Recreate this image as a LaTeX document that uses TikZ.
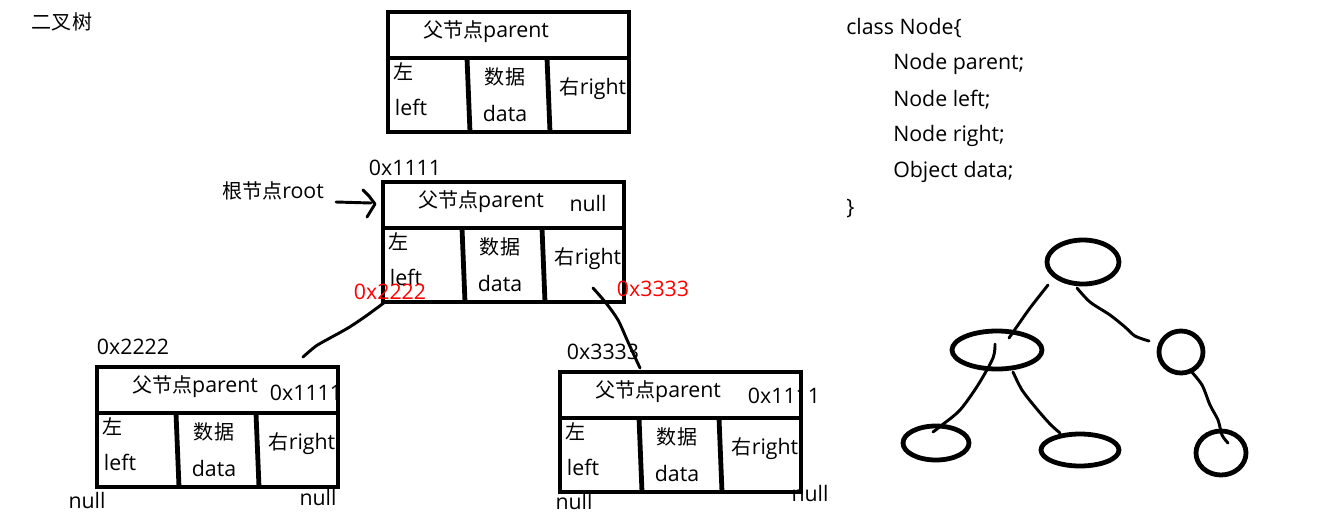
\documentclass[tikz,border=0pt]{standalone}
\usepackage{fontspec}
\setmainfont{Open Sans}
\newfontfamily\cjk[Scale=0.94]{Noto Sans CJK SC}
\newcommand\membox[3]{%
  \begin{scope}[shift={(#2,#3)}]
    \coordinate (#1) at (0,0);
    \draw[boxline] (0,0) rectangle (241,120);
    \draw[boxline] (0,46) -- (241,46);
    \draw[boxline] (79,46) -- (82,120);
    \draw[boxline] (159,46) -- (162,120);
    \node[txt] (#1-p) at (98,20) {{\cjk 父节点}parent};
    \node[txt] (#1-z) at (16,60) {\cjk 左};
    \node[txt] (#1-l) at (23,95) {left};
    \node[txt] (#1-s) at (117,65) {\cjk 数据};
    \node[txt] (#1-d) at (117,101) {data};
    \node[txt] (#1-r) at (205,77) {{\cjk 右}right};
  \end{scope}}
\begin{document}
\begin{tikzpicture}[x=0.75pt,y=-0.75pt,
  boxline/.style={line width=3.6pt},
  txt/.style={font=\fontsize{16}{19}\selectfont, inner sep=0pt},
  redtxt/.style={txt, text=red},
  hand/.style={line width=2.2pt, line cap=round, line join=round},
  ell/.style={line width=3.6pt}]
\useasboundingbox (0,0) rectangle (1321,515);
\fill[white] (0,0) rectangle (1321,515);

\node[txt] (title) at (62,22) {\cjk 二叉树};

% boxes
\membox{top}{388}{12}
\membox{root}{383}{182}
\membox{lc}{97}{367}
\membox{rc}{560}{372}

% extra texts
\node[txt] (rootnull) at (588,203) {null};
\node[txt] (lcpar) at (306,393) {0x1111};
\node[txt] (rcpar) at (784,396) {0x1111};
\node[txt] (addr1) at (405,168) {0x1111};
\node[txt] (addr2) at (133,347) {0x2222};
\node[txt] (addr3) at (603,352) {0x3333};
\node[txt] (rootlbl) at (273,191) {{\cjk 根节点}root};
\node[txt] (n1) at (87,500) {null};
\node[txt] (n2) at (318,497) {null};
\node[txt] (n3) at (574,501) {null};
\node[txt] (n4) at (810,493) {null};

% connectors
\coordinate (a1) at (336,202);
\coordinate (a2) at (371,203);
\draw[hand] (a1) -- (a2);
\draw[hand] (363,190) -- (369,196) -- (375,204) -- (367,217);

\coordinate (c1s) at (303,357);
\coordinate (c1e) at (385,302);
\draw[hand] plot[smooth] coordinates {(c1s) (316,346) (330,338) (348,328) (366,316) (c1e)};
\coordinate (c2s) at (593,288);
\coordinate (c2e) at (640,368);
\draw[hand] plot[smooth] coordinates {(c2s) (606,303) (618,320) (628,342) (c2e)};

\node[redtxt] (r1) at (390,292) {0x2222};
\node[redtxt] (r2) at (653,289) {0x3333};

% class text
\node[txt, anchor=west] (cl0) at (846,28) {class Node\{};
\node[txt, anchor=west] (cl1) at (893,64) {Node parent;};
\node[txt, anchor=west] (cl2) at (893,100) {Node left;};
\node[txt, anchor=west] (cl3) at (893,136) {Node right;};
\node[txt, anchor=west] (cl4) at (893,172) {Object data;};
\node[txt, anchor=west] (cl5) at (846,209) {\}};

% tree sketch
\draw[ell] (1083,262) ellipse [x radius=36, y radius=22];
\draw[ell] (997,350) ellipse [x radius=45, y radius=19];
\draw[ell] (1181,352) ellipse [x radius=22, y radius=21];
\draw[ell] (936,443) ellipse [x radius=33, y radius=17];
\draw[ell] (1080,450) ellipse [x radius=39, y radius=16];
\draw[ell] (1221,453) ellipse [x radius=25, y radius=22];
\draw[hand] plot[smooth] coordinates {(1048,285) (1030,308) (1018,325) (1009,338)};
\draw[hand] plot[smooth] coordinates {(1077,288) (1090,302) (1110,315) (1125,327) (1135,336) (1149,341)};
\draw[hand] plot[smooth] coordinates {(995,344) (993,358) (978,385) (960,410) (942,425) (933,432)};
\draw[hand] plot[smooth] coordinates {(1013,372) (1022,390) (1036,408) (1050,424) (1060,433)};
\draw[hand] plot[smooth] coordinates {(1190,370) (1202,385) (1210,405) (1218,420) (1222,435) (1228,443)};
\end{tikzpicture}
\end{document}
